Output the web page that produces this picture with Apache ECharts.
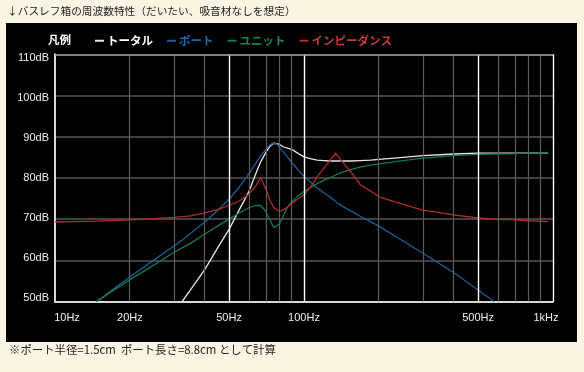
<!DOCTYPE html>
<html><head><meta charset="utf-8">
<script src="https://cdn.jsdelivr.net/npm/echarts@6/dist/echarts.min.js"></script>
<style>html,body{margin:0;padding:0;background:#fcf4e3;}#c{width:584px;height:372px;}</style>
</head><body><div id="c"></div>
<script>
// frequencies (Hz)
const freqs = [10,14.7,20,25,30,32.4,35,40,45,50,55,60,64,67,70,73,75.5,78,80,83,86,90,95,100,107,113,120,127,134,142,154,168,185,200,250,300,400,500,580,700,800,956];
// dB values (null = outside plot)
const totalDB = [null,null,null,null,null,50,52.8,57.8,63.0,67.5,72.3,76.6,81.0,83.9,86.0,87.7,88.4,88.3,88.0,87.5,87.2,86.8,85.9,85.1,84.6,84.3,84.2,84.1,84.1,84.1,84.1,84.2,84.3,84.5,85.0,85.4,85.8,86.0,86.0,86.0,86.0,86.0];
const portDB  = [null,50,56.0,60.1,63.4,64.9,66.5,69.3,72.1,74.8,77.8,81.0,83.5,85.3,86.8,88.0,88.5,88.2,87.3,86.2,85.0,83.5,81.9,80.4,78.8,77.6,76.4,75.4,74.2,73.2,72.0,70.7,69.4,68.3,64.7,61.7,57.0,52.8,50,null,null,null];
const unitDB  = [null,50,55.3,58.9,61.9,63.0,64.1,66.4,68.3,70.0,71.5,72.7,73.3,73.3,72.0,69.8,68.0,68.4,69.0,71.0,73.0,74.4,75.7,76.7,77.8,78.6,79.4,80.0,80.7,81.4,82.0,82.6,83.1,83.4,84.2,84.8,85.4,85.7,85.8,85.9,86.0,86.0];
const impDB   = [69.3,69.5,69.8,70.1,70.4,70.6,70.8,71.5,72.3,73.3,74.4,76.0,78.0,80.1,77.5,74.5,72.8,72.2,71.9,72.3,73.0,74.0,75.0,75.9,78.0,80.3,82.3,84.2,86.0,84.0,81.5,78.4,76.8,75.4,73.6,72.2,71.0,70.3,70.0,69.8,69.6,69.4];
// axis ticks
const tickFreqs = [10,20,50,100,500,1000];
const tickLabels = ['10Hz','20Hz','50Hz','100Hz','500Hz','1kHz'];
const yTicks = [50,60,70,80,90,100,110];
const gridFreqs = [20,30,40,50,60,70,80,90,100,200,300,400,500,600,700,800,900,1000];
const majorFreqs = [50,100,500,1000];
const seriesNames = ['トータル','ポート','ユニット','インピーダンス'];

const colors = ['#e6e6e6','#1b5d95','#0f7a4c','#ad2c2c'];
const legendColors = ['#ffffff','#1868ad','#138650','#c23c3c'];
const lg = Math.log10;
function pts(vals){ const out=[]; freqs.forEach((f,i)=>{ if(vals[i]!==null) out.push([lg(f), vals[i]]); }); return out; }

const chart = echarts.init(document.getElementById('c'), null, {renderer:'canvas'});
const rich = {};
yTicks.forEach(v=>{ const s=(v-80)/30*3.2; rich['y'+v] = {padding: s>0?[2*s,0,0,0]:[0,0,-2*s,0], fontSize:11, fontFamily:'Liberation Sans', color:'#eeeeee'}; });
rich.xmin = {padding:[0,0,0,24], fontSize:11, fontFamily:'Liberation Sans', color:'#eeeeee'};
rich.xmax = {padding:[0,14,0,0], fontSize:11, fontFamily:'Liberation Sans', color:'#eeeeee'};
rich.xn = {fontSize:11, fontFamily:'Liberation Sans', color:'#eeeeee'};

const gridMark = gridFreqs.map(f=>({xAxis: lg(f), lineStyle:{color: majorFreqs.includes(f)?'#ffffff':'#5c5c5c', width: majorFreqs.includes(f)?1.4:1.2, type:'solid'}}));
gridMark.push({yAxis:110, lineStyle:{color:'#9a9a9a', width:1.5, type:'solid'}});

const option = {
  backgroundColor: '#fcf4e3',
  animation: false,
  graphic: [
    {type:'rect', z:-100, shape:{x:6,y:23,width:571,height:319}, style:{fill:'#000000'}},
    {type:'text', left:7, top:6, style:{text:'↓バスレフ箱の周波数特性（だいたい、吸音材なしを想定）', font:'10.7px "Noto Sans CJK JP"', fill:'#222222'}},
    {type:'text', left:9, top:344, style:{text:'※ポート半径=1.5cm  ポート長さ=8.8cm として計算', font:'11.4px "Noto Sans CJK JP"', fill:'#222222'}},
    {type:'text', left:48, top:34, style:{text:'凡例', font:'bold 11.5px "Noto Sans CJK JP"', fill:'#ffffff'}}
  ],
  legend: {
    left: 95, top: 35, padding: 0, icon: 'rect', itemWidth: 9, itemHeight: 2, itemGap: 14,
    textStyle: {fontSize: 11.5, fontWeight: 'bold', fontFamily: 'Noto Sans CJK JP', padding:[0,0,0,-2]},
    selectedMode: false,
    data: seriesNames.map((n,i)=>({name:n, textStyle:{color: legendColors[i]}}))
  },
  grid: {left: 55, top: 54.3, width: 498, height: 247.2, containLabel:false},
  xAxis: {
    type:'value', min:1, max:3,
    axisLine:{show:true, onZero:false, lineStyle:{color:'#d8d8d8', width:2}},
    axisTick:{show:false}, splitLine:{show:false},
    axisLabel:{customValues: tickFreqs.map(lg), margin: 11,
      formatter: v=>{ let best=0; tickFreqs.forEach((f,i)=>{ if(Math.abs(lg(f)-v)<Math.abs(lg(tickFreqs[best])-v)) best=i; });
        const key = best===0?'xmin':(best===tickFreqs.length-1?'xmax':'xn'); return '{'+key+'|'+tickLabels[best]+'}'; },
      rich: rich}
  },
  yAxis: {
    type:'value', min:50, max:110, interval:10,
    axisLine:{show:true, onZero:false, lineStyle:{color:'#d8d8d8', width:2}},
    axisTick:{show:false},
    splitLine:{show:true, lineStyle:{color:'#404040', width:2}},
    axisLabel:{margin:6, formatter: v=>'{y'+v+'|'+v+'dB}', rich: rich}
  },
  series: [
    {type:'line', name:'_grid', data:[], z:1, silent:true,
     markLine:{silent:true, symbol:['none','none'], label:{show:false}, animation:false, data: gridMark}},
    ...[totalDB, portDB, unitDB, impDB].map((vals,i)=>({
      type:'line', name: seriesNames[i], data: pts(vals), showSymbol:false, symbol:'none',
      lineStyle:{color: colors[i], width:1.3}, itemStyle:{color: colors[i]}, z: 3, clip:true, silent:true
    }))
  ]
};
chart.setOption(option);
</script></body></html>
